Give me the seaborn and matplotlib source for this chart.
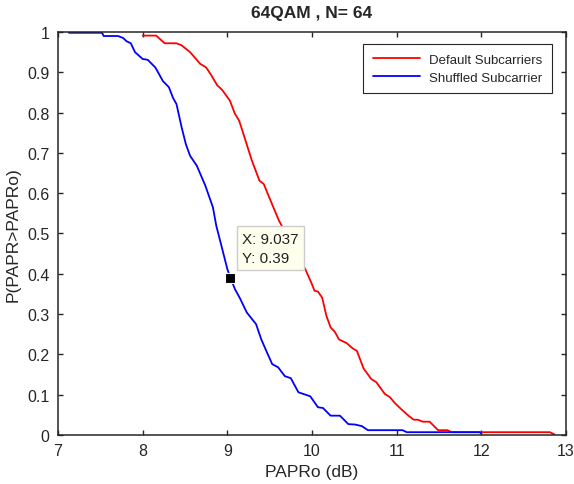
import numpy as np
import pandas as pd
import matplotlib
matplotlib.use("Agg")
import matplotlib.pyplot as plt
import seaborn as sns

# CCDF of PAPR
default_x = [8.0, 8.16, 8.26, 8.40, 8.46, 8.56, 8.68, 8.75, 8.81, 8.88, 8.94,
             9.03, 9.09, 9.14, 9.21, 9.29, 9.38, 9.43, 9.52, 9.61, 9.92, 9.99,
             10.03, 10.07, 10.12, 10.17, 10.22, 10.27, 10.32, 10.41, 10.48,
             10.53, 10.61, 10.70, 10.76, 10.86, 10.92, 10.98, 11.06, 11.14,
             11.20, 11.25, 11.31, 11.39, 11.49, 11.60, 11.65, 12.81, 12.86]
default_y = [0.991, 0.991, 0.972, 0.972, 0.967, 0.950, 0.921, 0.912, 0.893,
             0.868, 0.856, 0.830, 0.797, 0.780, 0.734, 0.681, 0.631, 0.623,
             0.577, 0.532, 0.412, 0.379, 0.358, 0.356, 0.341, 0.296, 0.267,
             0.256, 0.237, 0.228, 0.215, 0.209, 0.165, 0.139, 0.131, 0.102,
             0.094, 0.079, 0.063, 0.048, 0.038, 0.038, 0.033, 0.033, 0.012,
             0.012, 0.007, 0.007, 0.002]

shuffled_x = [7.13, 7.52, 7.54, 7.71, 7.77, 7.81, 7.86, 7.91, 8.0, 8.06, 8.15,
              8.24, 8.31, 8.36, 8.40, 8.46, 8.51, 8.56, 8.64, 8.74, 8.83, 8.87,
              8.93, 9.0, 9.037, 9.09, 9.15, 9.23, 9.34, 9.40, 9.46, 9.53, 9.60,
              9.68, 9.75, 9.84, 9.98, 10.07, 10.13, 10.22, 10.33, 10.43, 10.51,
              10.59, 10.66, 11.07, 11.12, 11.98, 12.0]
shuffled_y = [0.998, 0.998, 0.99, 0.99, 0.985, 0.977, 0.972, 0.95, 0.933,
              0.931, 0.912, 0.878, 0.863, 0.836, 0.821, 0.764, 0.722, 0.693,
              0.668, 0.619, 0.565, 0.519, 0.470, 0.412, 0.39, 0.362, 0.339,
              0.304, 0.275, 0.238, 0.209, 0.176, 0.168, 0.146, 0.141, 0.106,
              0.096, 0.069, 0.067, 0.048, 0.048, 0.027, 0.026, 0.022, 0.012,
              0.012, 0.007, 0.007, 0.004]

series_names = ["Default Subcarriers", "Shuffled Subcarrier"]
series_colors = ["#FF0000", "#0000FF"]
tip_x, tip_y = 9.037, 0.39

x_ticks = [7, 8, 9, 10, 11, 12, 13]
y_ticks = [0, 0.1, 0.2, 0.3, 0.4, 0.5, 0.6, 0.7, 0.8, 0.9, 1]
y_ticklabels = ["0", "0.1", "0.2", "0.3", "0.4", "0.5", "0.6", "0.7", "0.8", "0.9", "1"]

df = pd.concat([
    pd.DataFrame({"PAPRo": default_x, "CCDF": default_y, "series": series_names[0]}),
    pd.DataFrame({"PAPRo": shuffled_x, "CCDF": shuffled_y, "series": series_names[1]}),
], ignore_index=True)

sns.set_style("ticks")
plt.rcParams["font.family"] = ["Liberation Sans", "DejaVu Sans"]

fig = plt.figure(figsize=(5.74, 4.85), dpi=100)
ax = fig.add_axes([0.101, 0.101, 0.885, 0.831])

sns.lineplot(
    data=df, x="PAPRo", y="CCDF", hue="series", sort=False,
    palette=dict(zip(series_names, series_colors)), linewidth=1.3, ax=ax,
)

ax.set_xlim(7, 13)
ax.set_ylim(0, 1)
ax.set_xticks(x_ticks)
ax.set_xticklabels([str(t) for t in x_ticks])
ax.set_yticks(y_ticks)
ax.set_yticklabels(y_ticklabels)
ax.tick_params(direction="in", length=3.6, width=1, labelsize=11.5, pad=6,
               top=True, right=True, colors="#262626", labelcolor="#262626")
for s in ax.spines.values():
    s.set_linewidth(1.1)
    s.set_color("#262626")

ax.set_xlabel("PAPRo (dB)", fontsize=12.5, color="#262626", labelpad=4)
ax.set_ylabel("P(PAPR>PAPRo)", fontsize=12.5, color="#262626", labelpad=5)
ax.set_title("64QAM , N= 64", fontsize=12.5, fontweight="bold", pad=11)

leg = ax.legend(loc="upper right", bbox_to_anchor=(0.972, 0.970), fontsize=9.5,
                fancybox=False, framealpha=1, edgecolor="#262626",
                handlelength=3.6, handletextpad=0.7, borderpad=0.7,
                labelspacing=0.45, borderaxespad=0)
leg.get_frame().set_linewidth(0.8)
for line in leg.get_lines():
    line.set_linewidth(1.3)

# data tip
ax.plot([tip_x], [tip_y], marker="s", markersize=7.5, color="black",
        markeredgecolor="#FFFFE0", markeredgewidth=0.8, zorder=5)
ax.annotate(f"X: {tip_x}\nY: {tip_y}", xy=(tip_x, tip_y),
            xytext=(8.5, 9.5), textcoords="offset points", ha="left", va="bottom",
            fontsize=11, color="#222222", linespacing=1.45,
            bbox=dict(boxstyle="square,pad=0.35", facecolor="#FFFFEE",
                      edgecolor="#CCCCCC", linewidth=1),
            zorder=6)

fig.savefig("out.png", dpi=100)
